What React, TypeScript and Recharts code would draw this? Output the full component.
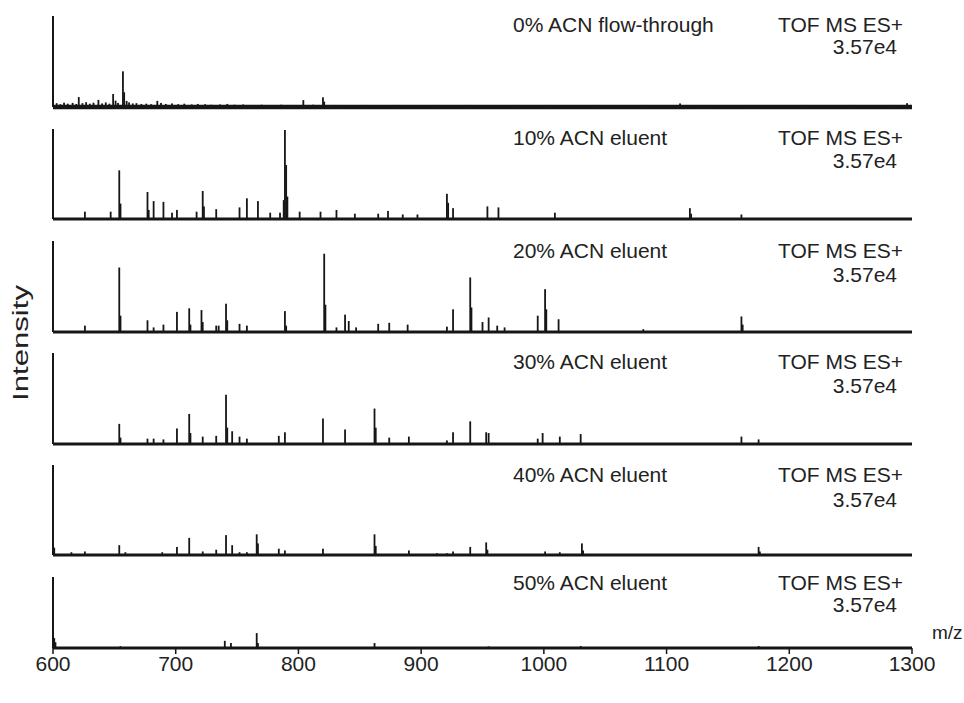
import React from "react";
import { BarChart, Bar, XAxis, YAxis } from "recharts";

// full scale of every trace (counts)
const FULL_SCALE = 35700;
const mzTicks = [600, 700, 800, 900, 1000, 1100, 1200, 1300];
const panelNames = [
  "0% ACN flow-through",
  "10% ACN eluent",
  "20% ACN eluent",
  "30% ACN eluent",
  "40% ACN eluent",
  "50% ACN eluent",
];
const instrument = "TOF MS ES+";
const scaleText = "3.57e4";

// [m/z, intensity]
const peaks0: [number, number][] = [
  [621, 3900], [637, 2800], [649, 5100], [651, 2500], [657, 14000], [658, 5800],
  [660, 2400], [685, 2400], [804, 2700], [820, 3800], [821, 2100], [1111, 1400], [1296, 1500],
];
const grass0: [number, number][] = [
  [603, 1500], [606, 1100], [609, 1700], [612, 1300], [616, 1600], [619, 1200], [624, 1500],
  [627, 1900], [630, 1300], [633, 1700], [640, 1400], [643, 1800], [646, 1300], [653, 1600],
  [662, 1800], [665, 1400], [668, 1500], [672, 1200], [676, 1300], [680, 1100], [688, 1600],
  [692, 1200], [697, 1400], [702, 1100], [707, 1300], [713, 1000], [718, 1200], [724, 1100],
  [729, 900], [736, 1000], [742, 1200], [748, 900], [755, 1000], [762, 800], [770, 900],
  [778, 800], [786, 900], [795, 800], [812, 900], [830, 800], [840, 700], [852, 800],
  [866, 700], [880, 800], [895, 700], [910, 800], [925, 700], [940, 800], [958, 700],
  [975, 800], [990, 700], [1005, 800], [1020, 700], [1040, 800], [1060, 700], [1080, 800],
  [1100, 700], [1130, 800], [1150, 700], [1170, 800], [1190, 700], [1210, 800], [1230, 700],
  [1250, 800], [1270, 700], [1285, 800],
];
const peaks10: [number, number][] = [
  [626, 2900], [647, 2900], [654, 19300], [655, 6100], [677, 10700], [678, 3600], [682, 7100],
  [690, 6800], [697, 2500], [701, 3600], [717, 2900], [722, 11100], [723, 5000], [733, 3900],
  [752, 4600], [758, 8200], [767, 7100], [777, 2500], [785, 2500], [788, 7500], [789, 35300],
  [790, 21400], [791, 8900], [801, 2900], [818, 2900], [831, 3600], [846, 2100], [865, 2100],
  [873, 3200], [885, 1800], [897, 1800], [921, 10000], [922, 6400], [926, 4300], [954, 5000],
  [963, 4600], [1009, 2500], [1119, 4300], [1120, 2100], [1161, 1800],
];
const peaks20: [number, number][] = [
  [626, 2500], [654, 25300], [655, 6400], [677, 4600], [682, 1800], [690, 2900], [701, 7900],
  [711, 9300], [712, 2900], [721, 8600], [722, 3900], [733, 2500], [735, 2500], [741, 11100],
  [742, 4600], [752, 3200], [758, 2500], [789, 8200], [790, 2500], [821, 30700], [822, 10700],
  [831, 1800], [838, 6800], [841, 4300], [847, 1800], [865, 3200], [874, 3600], [889, 2900],
  [921, 2100], [926, 8900], [940, 21400], [941, 9600], [950, 3900], [955, 5700], [962, 2500],
  [968, 1800], [995, 6400], [1001, 16800], [1002, 8900], [1012, 5000], [1081, 1100],
  [1161, 6100], [1162, 2900],
];
const peaks30: [number, number][] = [
  [654, 7900], [655, 2500], [677, 2100], [682, 2100], [690, 1800], [701, 6100], [711, 11800],
  [712, 4300], [722, 2900], [733, 3200], [741, 19300], [742, 6400], [746, 5000], [752, 2900],
  [758, 2100], [784, 3200], [789, 4600], [820, 10000], [838, 5700], [862, 13900], [863, 6400],
  [874, 2500], [890, 2900], [921, 1400], [926, 4600], [940, 8900], [953, 4600], [955, 4300],
  [995, 2100], [999, 4300], [1013, 2900], [1030, 3900], [1161, 2900], [1175, 1800],
];
const peaks40: [number, number][] = [
  [601, 2900], [615, 1100], [626, 1400], [654, 3900], [659, 1100], [689, 1100], [701, 3200],
  [711, 6800], [722, 1400], [733, 2100], [741, 7900], [746, 3900], [752, 1100], [758, 1100],
  [766, 8200], [767, 4600], [784, 2500], [789, 1800], [820, 2500], [862, 8200], [863, 3600],
  [890, 1800], [913, 700], [921, 700], [926, 1400], [940, 3200], [953, 5000], [954, 2100],
  [1001, 1400], [1013, 1100], [1031, 4600], [1032, 1800], [1175, 3200], [1176, 1400],
];
const peaks50: [number, number][] = [
  [601, 5000], [602, 2900], [655, 900], [740, 3600], [745, 2500], [766, 7500], [767, 2500],
  [862, 2500], [955, 800], [1030, 1000], [1175, 1000],
];

const panelData = [
  [...peaks0, ...grass0],
  peaks10,
  peaks20,
  peaks30,
  peaks40,
  peaks50,
].map((list) => list.map(([mz, i]) => ({ mz, i })));

// layout
const W = 964;
const PLOT_LEFT = 53;
const PLOT_RIGHT = 912;
const Y_AXIS_W = 10;
const panelTop = [16, 129, 241, 353, 465, 577];
const panelBottom = [107, 219, 332, 444, 555, 648];
const labelY1 = [32, 145, 258, 369, 482, 590];
const labelY2 = [54, 168, 282, 393, 507, 612];
const baseWidth = [4.5, 3, 3, 3, 3, 3];
const FONT = "'Liberation Sans', Arial, Helvetica, sans-serif";
const INK = "#161616";

// stick of fixed width centred on the bar slot
const Stick = (props: any) => {
  const { x, y, width, height } = props;
  if (!height || height <= 0) return null;
  return <rect x={x + width / 2 - 0.9} y={y} width={1.8} height={height} fill={INK} />;
};

function Panel({ idx }: { idx: number }) {
  const last = idx === panelTop.length - 1;
  const pad = 5;
  const plotH = panelBottom[idx] - panelTop[idx];
  const axisH = last ? 40 : 1;
  return (
    <div style={{ position: "absolute", left: 0, top: panelTop[idx] - pad }}>
      <BarChart
        width={W}
        height={plotH + pad * 2 + axisH}
        data={panelData[idx]}
        margin={{ top: pad, right: W - PLOT_RIGHT, left: PLOT_LEFT - Y_AXIS_W, bottom: pad }}
        barGap={0}
      >
        <XAxis
          dataKey="mz"
          type="number"
          domain={[600, 1300]}
          allowDataOverflow
          ticks={mzTicks}
          interval={0}
          height={axisH}
          tick={last ? { fontSize: 21, fill: "#222", fontFamily: FONT } : false}
          tickLine={last ? { stroke: INK, strokeWidth: 1.5 } : false}
          tickSize={last ? 6 : 0}
          axisLine={{ stroke: INK, strokeWidth: baseWidth[idx] }}
        />
        <YAxis
          type="number"
          domain={[0, FULL_SCALE]}
          allowDataOverflow
          width={Y_AXIS_W}
          tick={false}
          tickLine={false}
          axisLine={{ stroke: INK, strokeWidth: 2 }}
        />
        <Bar dataKey="i" fill={INK} shape={Stick} isAnimationActive={false} />
      </BarChart>
    </div>
  );
}

export default function App() {
  return (
    <div
      style={{
        position: "absolute",
        left: 0,
        top: 0,
        width: W,
        height: 703,
        background: "#fff",
        fontFamily: FONT,
      }}
    >
      {panelTop.map((_, i) => (
        <Panel key={i} idx={i} />
      ))}
      <svg
        width={W}
        height={703}
        style={{ position: "absolute", left: 0, top: 0, pointerEvents: "none" }}
        fontFamily={FONT}
        fill="#222"
      >
        {panelNames.map((name, i) => (
          <g key={name} fontSize={21}>
            <text x={513} y={labelY1[i]}>{name}</text>
            <text x={903} y={labelY1[i]} textAnchor="end">{instrument}</text>
            <text x={897} y={labelY2[i]} textAnchor="end">{scaleText}</text>
          </g>
        ))}
        <text x={932} y={639} fontSize={19}>m/z</text>
        <text
          transform="translate(28,343) rotate(-90)"
          textAnchor="middle"
          fontSize={22}
          textLength={116}
          lengthAdjust="spacingAndGlyphs"
        >
          Intensity
        </text>
      </svg>
    </div>
  );
}
